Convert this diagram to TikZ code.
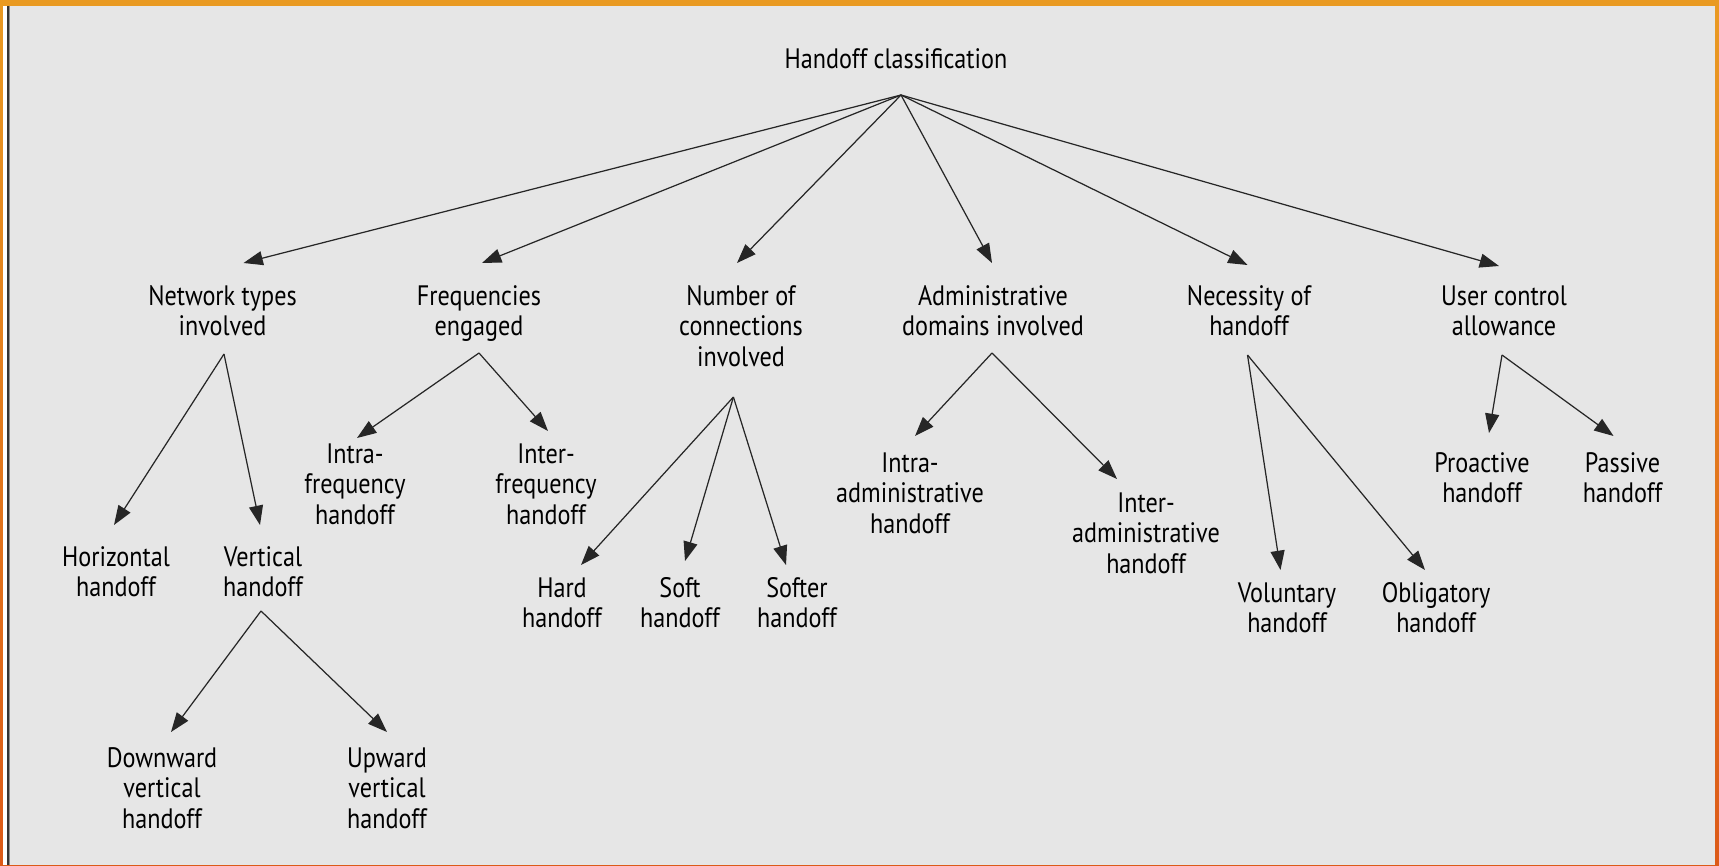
\documentclass[tikz,border=0pt]{standalone}
\usepackage{fontspec}
\setmainfont{PT Sans}[FakeStretch=0.86]
\usepackage{xcolor}
\usetikzlibrary{arrows.meta,calc}

\definecolor{panel}{HTML}{E6E6E6}
\definecolor{rimtop}{HTML}{E99A22}
\definecolor{rimbot}{HTML}{DC5A18}

\begin{document}
\begin{tikzpicture}[x=0.02cm, y=-0.02cm,
	box/.style={align=center, anchor=north, inner sep=0pt, font=\fontsize{16}{17.4}\selectfont},
	arr/.style={-{Triangle[length=11pt,width=8pt]}, line width=0.7pt, draw=black!85}]
	\useasboundingbox (0,0) rectangle (1719,865);
	% frame
	\fill[top color=rimtop, bottom color=rimbot] (0,0) rectangle (1719,865);
	\fill[panel] (10,6) rectangle (1715,865);
	\fill[white] (3,6) rectangle (7,865);
	\fill[black!80] (7,6) rectangle (9,865);
	\fill[black!45] (9,6) rectangle (10,865);

	% root
	\node[box] (root) at (896,48) {Handoff classification};

	% first level
	\node[box] (netw) at (222.5,285) {Network types\\involved};
	\node[box] (freq) at (479,285) {Frequencies\\engaged};
	\node[box] (conn) at (741,285) {Number of\\connections\\involved};
	\node[box] (adm) at (993,285) {Administrative\\domains involved};
	\node[box] (nec) at (1249,285) {Necessity of\\handoff};
	\node[box] (usr) at (1504,285) {User control\\allowance};

	% second level
	\node[box] (horz) at (116,546) {Horizontal\\handoff};
	\node[box] (vert) at (263,546) {Vertical\\handoff};
	\node[box] (intf) at (355,443) {Intra-\\frequency\\handoff};
	\node[box] (inf) at (546,443) {Inter-\\frequency\\handoff};
	\node[box] (hard) at (562,577) {Hard\\handoff};
	\node[box] (soft) at (680,577) {Soft\\handoff};
	\node[box] (sftr) at (797,577) {Softer\\handoff};
	\node[box] (iadm) at (910,452) {Intra-\\administrative\\handoff};
	\node[box] (eadm) at (1146,492) {Inter-\\administrative\\handoff};
	\node[box] (vol) at (1287,582) {Voluntary\\handoff};
	\node[box] (obl) at (1436,582) {Obligatory\\handoff};
	\node[box] (pro) at (1482,452) {Proactive\\handoff};
	\node[box] (pas) at (1622.5,452) {Passive\\handoff};

	% third level
	\node[box] (down) at (162,747) {Downward\\vertical\\handoff};
	\node[box] (up) at (387,747) {Upward\\vertical\\handoff};

	% fork points under the parents
	\coordinate (root-o) at ($(root.north)+(5,47)$);
	\coordinate (netw-o) at ($(netw.north)+(1.5,69)$);
	\coordinate (freq-o) at ($(freq.north)+(0,68)$);
	\coordinate (conn-o) at ($(conn.north)+(-7.6,112)$);
	\coordinate (adm-o) at ($(adm.north)+(-1,68)$);
	\coordinate (nec-o) at ($(nec.north)+(-1.5,70)$);
	\coordinate (usr-o) at ($(usr.north)+(-2,70)$);
	\coordinate (vert-o) at ($(vert.north)+(-2,65)$);

	% arrows
	\draw[arr] (root-o) -- ($(netw.north)+(21,-22)$);
	\draw[arr] (root-o) -- ($(freq.north)+(3,-22)$);
	\draw[arr] (root-o) -- ($(conn.north)+(-4,-22)$);
	\draw[arr] (root-o) -- ($(adm.north)+(-1,-22)$);
	\draw[arr] (root-o) -- ($(nec.north)+(-1.5,-20)$);
	\draw[arr] (root-o) -- ($(usr.north)+(-5,-19)$);

	\draw[arr] (netw-o) -- ($(horz.north)+(-2,-21)$);
	\draw[arr] (netw-o) -- ($(vert.north)+(-3,-21)$);
	\draw[arr] (freq-o) -- ($(intf.north)+(2,-5)$);
	\draw[arr] (freq-o) -- ($(inf.north)+(2,-12)$);
	\draw[arr] (conn-o) -- ($(hard.north)+(19,-12)$);
	\draw[arr] (conn-o) -- ($(soft.north)+(5,-16)$);
	\draw[arr] (conn-o) -- ($(sftr.north)+(-11,-12)$);
	\draw[arr] (adm-o) -- ($(iadm.north)+(5,-16)$);
	\draw[arr] (adm-o) -- ($(eadm.north)+(-29,-13)$);
	\draw[arr] (nec-o) -- ($(vol.north)+(-6.5,-12)$);
	\draw[arr] (nec-o) -- ($(obl.north)+(-11,-12)$);
	\draw[arr] (usr-o) -- ($(pro.north)+(7,-19)$);
	\draw[arr] (usr-o) -- ($(pas.north)+(-9,-16)$);

	\draw[arr] (vert-o) -- ($(down.north)+(9,-15)$);
	\draw[arr] (vert-o) -- ($(up.north)+(0,-15)$);
\end{tikzpicture}
\end{document}
